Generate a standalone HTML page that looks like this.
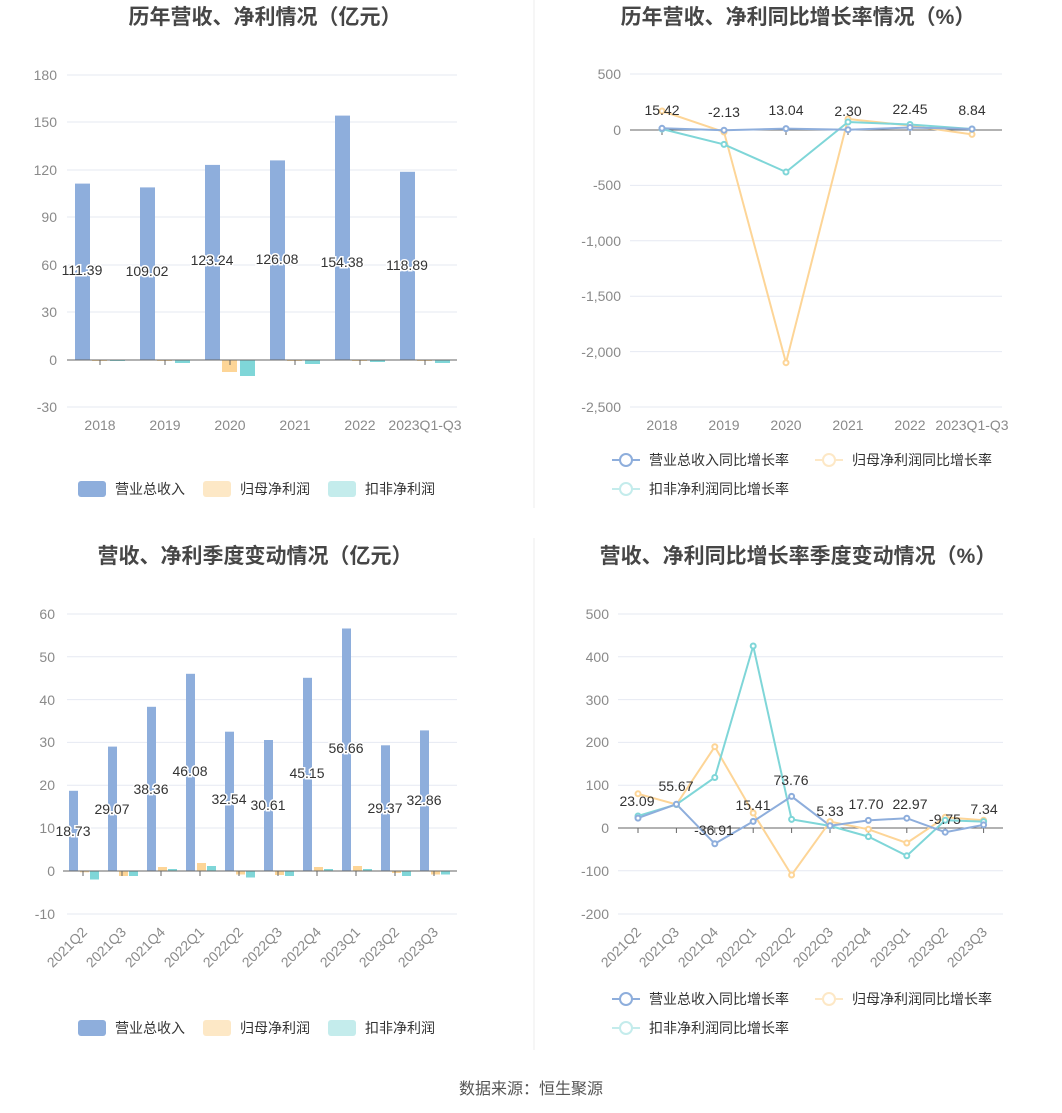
<!DOCTYPE html>
<html><head><meta charset="utf-8"><style>
body{margin:0;background:#fff}
svg{display:block;font-family:"Liberation Sans","Noto Sans CJK SC",sans-serif}
.t{font-size:21px;font-weight:bold;fill:#464646;text-anchor:middle}
.ax{font-size:14px;fill:#8a8a8a}
.yl{text-anchor:end}
.xl{text-anchor:middle}
.g{stroke:#e6e9f2;stroke-width:1}
.lb{font-size:14px;fill:#333;text-anchor:middle;paint-order:stroke;stroke:#fff;stroke-width:3px}
.lg{font-size:14px;fill:#333}
.b{fill:#8eaedc}.o{fill:#fdd597}.c{fill:#7fd6d8}
.lb2{font-size:14px;fill:#333;text-anchor:middle}
</style></head><body>
<svg width="1062" height="1113" viewBox="0 0 1062 1113">
<line x1="534" y1="0" x2="534" y2="508" stroke="#eee"/>
<line x1="534" y1="538" x2="534" y2="1050" stroke="#eee"/>
<!-- Chart 1 -->
<text class="t" x="265" y="24">历年营收、净利情况（亿元）</text>
<g class="g"><line x1="67" x2="457" y1="75" y2="75"/><line x1="67" x2="457" y1="122" y2="122"/><line x1="67" x2="457" y1="170" y2="170"/><line x1="67" x2="457" y1="217" y2="217"/><line x1="67" x2="457" y1="265" y2="265"/><line x1="67" x2="457" y1="312" y2="312"/><line x1="67" x2="457" y1="407" y2="407"/></g>
<g class="ax yl"><text x="57" y="80">180</text><text x="57" y="127">150</text><text x="57" y="175">120</text><text x="57" y="222">90</text><text x="57" y="270">60</text><text x="57" y="317">30</text><text x="57" y="365">0</text><text x="57" y="412">-30</text></g>
<g class="b"><rect x="75" y="183.6" width="15" height="176.4"/><rect x="140" y="187.4" width="15" height="172.6"/><rect x="205" y="164.9" width="15" height="195.1"/><rect x="270" y="160.4" width="15" height="199.6"/><rect x="335" y="115.6" width="15" height="244.4"/><rect x="400" y="171.8" width="15" height="188.2"/></g>
<g class="o"><rect x="92" y="360" width="15" height="1"/><rect x="157" y="360" width="15" height="1"/><rect x="222" y="360" width="15" height="12"/><rect x="287" y="360" width="15" height="1"/><rect x="352" y="360" width="15" height="1"/><rect x="417" y="360" width="15" height="1"/></g>
<g class="c"><rect x="110" y="360" width="15" height="1"/><rect x="175" y="360" width="15" height="3"/><rect x="240" y="360" width="15" height="16"/><rect x="305" y="360" width="15" height="4"/><rect x="370" y="360" width="15" height="2"/><rect x="435" y="360" width="15" height="3"/></g>
<line x1="67" x2="457" y1="360" y2="360" stroke="#666"/>
<g stroke="#666"><line x1="100" x2="100" y1="360" y2="365"/><line x1="165" x2="165" y1="360" y2="365"/><line x1="230" x2="230" y1="360" y2="365"/><line x1="295" x2="295" y1="360" y2="365"/><line x1="360" x2="360" y1="360" y2="365"/><line x1="425" x2="425" y1="360" y2="365"/></g>
<g class="lb"><text x="82" y="275">111.39</text><text x="147" y="276">109.02</text><text x="212" y="265">123.24</text><text x="277" y="264">126.08</text><text x="342" y="267">154.38</text><text x="407" y="270">118.89</text></g>
<g class="ax xl"><text x="100" y="430">2018</text><text x="165" y="430">2019</text><text x="230" y="430">2020</text><text x="295" y="430">2021</text><text x="360" y="430">2022</text><text x="425" y="430">2023Q1-Q3</text></g>
<rect x="78" y="481" width="28" height="16" rx="3" fill="#8eaedc"/><text class="lg" x="115" y="494">营业总收入</text>
<rect x="203" y="481" width="28" height="16" rx="3" fill="#fde8c6"/><text class="lg" x="240" y="494">归母净利润</text>
<rect x="328" y="481" width="28" height="16" rx="3" fill="#c4ecec"/><text class="lg" x="365" y="494">扣非净利润</text>
<!-- Chart 2 -->
<text class="t" x="798" y="24">历年营收、净利同比增长率情况（%）</text>
<g class="g"><line x1="630" x2="1002" y1="74" y2="74"/><line x1="630" x2="1002" y1="185.4" y2="185.4"/><line x1="630" x2="1002" y1="240.8" y2="240.8"/><line x1="630" x2="1002" y1="296.2" y2="296.2"/><line x1="630" x2="1002" y1="351.6" y2="351.6"/><line x1="630" x2="1002" y1="407" y2="407"/></g>
<g class="ax yl"><text x="621" y="79">500</text><text x="621" y="135">0</text><text x="621" y="190">-500</text><text x="621" y="246">-1,000</text><text x="621" y="301">-1,500</text><text x="621" y="357">-2,000</text><text x="621" y="412">-2,500</text></g>
<line x1="630" x2="1002" y1="130" y2="130" stroke="#666"/>
<g stroke="#666"><line x1="662" x2="662" y1="130" y2="135"/><line x1="724" x2="724" y1="130" y2="135"/><line x1="786" x2="786" y1="130" y2="135"/><line x1="848" x2="848" y1="130" y2="135"/><line x1="910" x2="910" y1="130" y2="135"/><line x1="972" x2="972" y1="130" y2="135"/></g>
<g fill="#fff" stroke-width="2">
<polyline fill="none" stroke="#fdd597" points="662,111 724,132 786,362.7 848,119 910,125.6 972,134.4"/>
<polyline fill="none" stroke="#7fd6d8" points="662,129 724,144.4 786,172 848,122 910,124.5 972,129"/>
<polyline fill="none" stroke="#8eaedc" points="662,128.3 724,130.2 786,128.6 848,129.7 910,127.5 972,129"/>
<g stroke="#fdd597"><circle cx="662" cy="111" r="2.5"/><circle cx="724" cy="132" r="2.5"/><circle cx="786" cy="362.7" r="2.5"/><circle cx="848" cy="119" r="2.5"/><circle cx="910" cy="125.6" r="2.5"/><circle cx="972" cy="134.4" r="2.5"/></g>
<g stroke="#7fd6d8"><circle cx="662" cy="129" r="2.5"/><circle cx="724" cy="144.4" r="2.5"/><circle cx="786" cy="172" r="2.5"/><circle cx="848" cy="122" r="2.5"/><circle cx="910" cy="124.5" r="2.5"/><circle cx="972" cy="129" r="2.5"/></g>
<g stroke="#8eaedc"><circle cx="662" cy="128.3" r="2.5"/><circle cx="724" cy="130.2" r="2.5"/><circle cx="786" cy="128.6" r="2.5"/><circle cx="848" cy="129.7" r="2.5"/><circle cx="910" cy="127.5" r="2.5"/><circle cx="972" cy="129" r="2.5"/></g>
</g>
<g class="lb2"><text x="662" y="115">15.42</text><text x="724" y="117">-2.13</text><text x="786" y="115">13.04</text><text x="848" y="116">2.30</text><text x="910" y="114">22.45</text><text x="972" y="115">8.84</text></g>
<g class="ax xl"><text x="662" y="430">2018</text><text x="724" y="430">2019</text><text x="786" y="430">2020</text><text x="848" y="430">2021</text><text x="910" y="430">2022</text><text x="972" y="430">2023Q1-Q3</text></g>
<g fill="#fff" stroke-width="2">
<line x1="612" x2="640" y1="460" y2="460" stroke="#8eaedc"/><circle cx="626" cy="460" r="6" stroke="#8eaedc"/>
<line x1="815" x2="843" y1="460" y2="460" stroke="#fde8c6"/><circle cx="829" cy="460" r="6" stroke="#fde8c6"/>
<line x1="612" x2="640" y1="489" y2="489" stroke="#c4ecec"/><circle cx="626" cy="489" r="6" stroke="#c4ecec"/>
</g>
<text class="lg" x="649" y="465">营业总收入同比增长率</text><text class="lg" x="852" y="465">归母净利润同比增长率</text><text class="lg" x="649" y="494">扣非净利润同比增长率</text>
<!-- Chart 3 -->
<text class="t" x="255" y="563">营收、净利季度变动情况（亿元）</text>
<g class="g"><line x1="67" x2="457" y1="614" y2="614"/><line x1="67" x2="457" y1="656.8" y2="656.8"/><line x1="67" x2="457" y1="699.6" y2="699.6"/><line x1="67" x2="457" y1="742.4" y2="742.4"/><line x1="67" x2="457" y1="785.2" y2="785.2"/><line x1="67" x2="457" y1="828" y2="828"/><line x1="67" x2="457" y1="914" y2="914"/></g>
<g class="ax yl"><text x="55" y="619">60</text><text x="55" y="662">50</text><text x="55" y="705">40</text><text x="55" y="747">30</text><text x="55" y="790">20</text><text x="55" y="833">10</text><text x="55" y="876">0</text><text x="55" y="919">-10</text></g>
<g class="b"><rect x="69" y="790.8" width="9" height="80.2"/><rect x="108" y="746.6" width="9" height="124.4"/><rect x="147" y="706.8" width="9" height="164.2"/><rect x="186" y="673.8" width="9" height="197.2"/><rect x="225" y="731.7" width="9" height="139.3"/><rect x="264" y="740" width="9" height="131"/><rect x="303" y="677.8" width="9" height="193.2"/><rect x="342" y="628.5" width="9" height="242.5"/><rect x="381" y="745.3" width="9" height="125.7"/><rect x="420" y="730.4" width="9" height="140.6"/></g>
<g class="o"><rect x="80" y="871" width="9" height="1.3"/><rect x="119" y="871" width="9" height="5"/><rect x="158" y="867" width="9" height="4"/><rect x="197" y="863" width="9" height="8"/><rect x="236" y="871" width="9" height="3.5"/><rect x="275" y="871" width="9" height="4"/><rect x="314" y="867" width="9" height="4"/><rect x="353" y="866" width="9" height="5"/><rect x="392" y="871" width="9" height="2"/><rect x="431" y="871" width="9" height="3.5"/></g>
<g class="c"><rect x="90" y="871" width="9" height="8.5"/><rect x="129" y="871" width="9" height="5"/><rect x="168" y="869" width="9" height="2"/><rect x="207" y="866" width="9" height="5"/><rect x="246" y="871" width="9" height="6.5"/><rect x="285" y="871" width="9" height="5"/><rect x="324" y="869" width="9" height="2"/><rect x="363" y="869" width="9" height="2"/><rect x="402" y="871" width="9" height="5"/><rect x="441" y="871" width="9" height="3.5"/></g>
<line x1="63" x2="457" y1="871" y2="871" stroke="#666"/>
<g stroke="#666"><line x1="83" x2="83" y1="871" y2="876"/><line x1="122" x2="122" y1="871" y2="876"/><line x1="161" x2="161" y1="871" y2="876"/><line x1="200" x2="200" y1="871" y2="876"/><line x1="239" x2="239" y1="871" y2="876"/><line x1="278" x2="278" y1="871" y2="876"/><line x1="317" x2="317" y1="871" y2="876"/><line x1="356" x2="356" y1="871" y2="876"/><line x1="395" x2="395" y1="871" y2="876"/><line x1="434" x2="434" y1="871" y2="876"/></g>
<g class="lb"><text x="73" y="836">18.73</text><text x="112" y="814">29.07</text><text x="151" y="794">38.36</text><text x="190" y="776">46.08</text><text x="229" y="804">32.54</text><text x="268" y="810">30.61</text><text x="307" y="778">45.15</text><text x="346" y="753">56.66</text><text x="385" y="813">29.37</text><text x="424" y="805">32.86</text></g>
<g class="ax" text-anchor="end">
<text transform="translate(88,933) rotate(-45)">2021Q2</text><text transform="translate(127,933) rotate(-45)">2021Q3</text><text transform="translate(166,933) rotate(-45)">2021Q4</text><text transform="translate(205,933) rotate(-45)">2022Q1</text><text transform="translate(244,933) rotate(-45)">2022Q2</text><text transform="translate(283,933) rotate(-45)">2022Q3</text><text transform="translate(322,933) rotate(-45)">2022Q4</text><text transform="translate(361,933) rotate(-45)">2023Q1</text><text transform="translate(400,933) rotate(-45)">2023Q2</text><text transform="translate(439,933) rotate(-45)">2023Q3</text></g>
<rect x="78" y="1020" width="28" height="16" rx="3" fill="#8eaedc"/><text class="lg" x="115" y="1033">营业总收入</text>
<rect x="203" y="1020" width="28" height="16" rx="3" fill="#fde8c6"/><text class="lg" x="240" y="1033">归母净利润</text>
<rect x="328" y="1020" width="28" height="16" rx="3" fill="#c4ecec"/><text class="lg" x="365" y="1033">扣非净利润</text>
<!-- Chart 4 -->
<text class="t" x="798" y="563">营收、净利同比增长率季度变动情况（%）</text>
<g class="g"><line x1="618" x2="1003" y1="614" y2="614"/><line x1="618" x2="1003" y1="656.8" y2="656.8"/><line x1="618" x2="1003" y1="699.6" y2="699.6"/><line x1="618" x2="1003" y1="742.4" y2="742.4"/><line x1="618" x2="1003" y1="785.2" y2="785.2"/><line x1="618" x2="1003" y1="870.8" y2="870.8"/><line x1="618" x2="1003" y1="914" y2="914"/></g>
<g class="ax yl"><text x="609" y="619">500</text><text x="609" y="662">400</text><text x="609" y="705">300</text><text x="609" y="747">200</text><text x="609" y="790">100</text><text x="609" y="833">0</text><text x="609" y="876">-100</text><text x="609" y="919">-200</text></g>
<line x1="618" x2="1003" y1="828" y2="828" stroke="#666"/>
<g stroke="#666"><line x1="638" x2="638" y1="828" y2="833"/><line x1="676.4" x2="676.4" y1="828" y2="833"/><line x1="714.8" x2="714.8" y1="828" y2="833"/><line x1="753.2" x2="753.2" y1="828" y2="833"/><line x1="791.6" x2="791.6" y1="828" y2="833"/><line x1="830" x2="830" y1="828" y2="833"/><line x1="868.4" x2="868.4" y1="828" y2="833"/><line x1="906.8" x2="906.8" y1="828" y2="833"/><line x1="945.2" x2="945.2" y1="828" y2="833"/><line x1="983.6" x2="983.6" y1="828" y2="833"/></g>
<g fill="#fff" stroke-width="2">
<polyline fill="none" stroke="#fdd597" points="638,793.8 676.4,804.5 714.8,746.7 753.2,813 791.6,875 830,821.6 868.4,829.3 906.8,843 945.2,817.3 983.6,820.3"/>
<polyline fill="none" stroke="#7fd6d8" points="638,816 676.4,804.5 714.8,777.5 753.2,646 791.6,819.4 830,825.9 868.4,836.6 906.8,855.8 945.2,820.3 983.6,821.6"/>
<polyline fill="none" stroke="#8eaedc" points="638,818.1 676.4,804.2 714.8,843.8 753.2,821.4 791.6,796.4 830,825.7 868.4,820.4 906.8,818.2 945.2,832.2 983.6,824.9"/>
<g stroke="#fdd597"><circle cx="638" cy="793.8" r="2.5"/><circle cx="676.4" cy="804.5" r="2.5"/><circle cx="714.8" cy="746.7" r="2.5"/><circle cx="753.2" cy="813" r="2.5"/><circle cx="791.6" cy="875" r="2.5"/><circle cx="830" cy="821.6" r="2.5"/><circle cx="868.4" cy="829.3" r="2.5"/><circle cx="906.8" cy="843" r="2.5"/><circle cx="945.2" cy="817.3" r="2.5"/><circle cx="983.6" cy="820.3" r="2.5"/></g>
<g stroke="#7fd6d8"><circle cx="638" cy="816" r="2.5"/><circle cx="676.4" cy="804.5" r="2.5"/><circle cx="714.8" cy="777.5" r="2.5"/><circle cx="753.2" cy="646" r="2.5"/><circle cx="791.6" cy="819.4" r="2.5"/><circle cx="830" cy="825.9" r="2.5"/><circle cx="868.4" cy="836.6" r="2.5"/><circle cx="906.8" cy="855.8" r="2.5"/><circle cx="945.2" cy="820.3" r="2.5"/><circle cx="983.6" cy="821.6" r="2.5"/></g>
<g stroke="#8eaedc"><circle cx="638" cy="818.1" r="2.5"/><circle cx="676.4" cy="804.2" r="2.5"/><circle cx="714.8" cy="843.8" r="2.5"/><circle cx="753.2" cy="821.4" r="2.5"/><circle cx="791.6" cy="796.4" r="2.5"/><circle cx="830" cy="825.7" r="2.5"/><circle cx="868.4" cy="820.4" r="2.5"/><circle cx="906.8" cy="818.2" r="2.5"/><circle cx="945.2" cy="832.2" r="2.5"/><circle cx="983.6" cy="824.9" r="2.5"/></g>
</g>
<g class="lb2"><text x="637" y="806">23.09</text><text x="676" y="791">55.67</text><text x="714" y="835">-36.91</text><text x="753" y="810">15.41</text><text x="791" y="785">73.76</text><text x="830" y="816">5.33</text><text x="866" y="809">17.70</text><text x="910" y="809">22.97</text><text x="945" y="824">-9.75</text><text x="984" y="814">7.34</text></g>
<g class="ax" text-anchor="end">
<text transform="translate(642,933) rotate(-45)">2021Q2</text><text transform="translate(680,933) rotate(-45)">2021Q3</text><text transform="translate(719,933) rotate(-45)">2021Q4</text><text transform="translate(757,933) rotate(-45)">2022Q1</text><text transform="translate(796,933) rotate(-45)">2022Q2</text><text transform="translate(834,933) rotate(-45)">2022Q3</text><text transform="translate(872,933) rotate(-45)">2022Q4</text><text transform="translate(911,933) rotate(-45)">2023Q1</text><text transform="translate(949,933) rotate(-45)">2023Q2</text><text transform="translate(988,933) rotate(-45)">2023Q3</text></g>
<g fill="#fff" stroke-width="2">
<line x1="612" x2="640" y1="999" y2="999" stroke="#8eaedc"/><circle cx="626" cy="999" r="6" stroke="#8eaedc"/>
<line x1="815" x2="843" y1="999" y2="999" stroke="#fde8c6"/><circle cx="829" cy="999" r="6" stroke="#fde8c6"/>
<line x1="612" x2="640" y1="1028" y2="1028" stroke="#c4ecec"/><circle cx="626" cy="1028" r="6" stroke="#c4ecec"/>
</g>
<text class="lg" x="649" y="1004">营业总收入同比增长率</text><text class="lg" x="852" y="1004">归母净利润同比增长率</text><text class="lg" x="649" y="1033">扣非净利润同比增长率</text>
<text x="531" y="1094" text-anchor="middle" font-size="16" fill="#555">数据来源：恒生聚源</text>
</svg>
</body></html>
